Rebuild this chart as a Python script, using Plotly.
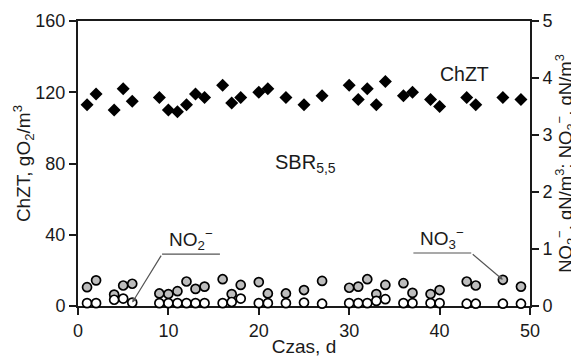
import plotly.graph_objects as go

days = [1, 2, 4, 5, 6, 9, 10, 11, 12, 13, 14, 16, 17, 18, 20, 21, 23, 25, 27,
        30, 31, 32, 33, 34, 36, 37, 39, 40, 43, 44, 47, 49]
chzt = [113, 119, 110, 122, 115, 117, 110, 109, 113, 119, 117, 124, 114, 117, 120,
        122, 117, 113, 118, 124, 116, 122, 113, 126, 118, 120, 116, 112, 117, 113,
        117, 116]
no3 = [0.33, 0.45, 0.20, 0.36, 0.39, 0.22, 0.21, 0.26, 0.43, 0.30, 0.34, 0.47, 0.21,
       0.37, 0.42, 0.22, 0.22, 0.28, 0.44, 0.32, 0.34, 0.47, 0.21, 0.37, 0.40, 0.23,
       0.21, 0.28, 0.43, 0.36, 0.46, 0.34]
no2 = [0.05, 0.05, 0.11, 0.13, 0.06, 0.05, 0.05, 0.05, 0.05, 0.05, 0.05, 0.05, 0.07,
       0.13, 0.05, 0.05, 0.05, 0.06, 0.04, 0.05, 0.05, 0.05, 0.09, 0.12, 0.05, 0.05,
       0.05, 0.05, 0.04, 0.04, 0.04, 0.04]

x_ticks = [0, 10, 20, 30, 40, 50]
y_ticks = [0, 40, 80, 120, 160]
y2_ticks = [0, 1, 2, 3, 4, 5]

FONT = "Liberation Sans, Arial, sans-serif"
INK = "#1a1a1a"
FS = 18

fig = go.Figure()
fig.add_trace(go.Scatter(x=days, y=chzt, mode="markers", name="ChZT",
                         marker=dict(symbol="diamond", size=10, color="black",
                                     line=dict(width=0)), cliponaxis=False))
fig.add_trace(go.Scatter(x=days, y=no3, mode="markers", yaxis="y2", name="NO3",
                         marker=dict(symbol="circle", size=9, color="#bdbdbd",
                                     line=dict(width=1.7, color="black")),
                         cliponaxis=False))
fig.add_trace(go.Scatter(x=days, y=no2, mode="markers", yaxis="y2", name="NO2",
                         marker=dict(symbol="circle", size=9, color="white",
                                     line=dict(width=1.7, color="black")),
                         cliponaxis=False))

i2 = days.index(6)
i3 = days.index(47)

shapes = [
    dict(type="line", xref="x", yref="y2", x0=9.3, x1=15.7, y0=0.91, y1=0.91,
         line=dict(color="#555555", width=1.2)),
    dict(type="line", xref="x", yref="y2", x0=37.1, x1=43.5, y0=0.93, y1=0.93,
         line=dict(color="#555555", width=1.2)),
]

annotations = [
    dict(x=days[i2], y=no2[i2], xref="x", yref="y2", ax=9.3, ay=0.91,
         axref="x", ayref="y2", showarrow=True, arrowhead=2, arrowsize=0.8,
         arrowwidth=1.2, arrowcolor="#555555", text=""),
    dict(x=days[i3], y=no3[i3], xref="x", yref="y2", ax=43.5, ay=0.93,
         axref="x", ayref="y2", showarrow=True, arrowhead=2, arrowsize=0.8,
         arrowwidth=1.2, arrowcolor="#555555", text=""),
    dict(x=12.5, y=1.17, xref="x", yref="y2", showarrow=False,
         text="NO<sub>2</sub><sup>−</sup>", font=dict(size=19, color=INK, family=FONT)),
    dict(x=40.3, y=1.19, xref="x", yref="y2", showarrow=False,
         text="NO<sub>3</sub><sup>−</sup>", font=dict(size=19, color=INK, family=FONT)),
    dict(x=42.8, y=130, xref="x", yref="y", showarrow=False,
         text="ChZT", font=dict(size=19.5, color=INK, family=FONT)),
    dict(x=25.2, y=80, xref="x", yref="y", showarrow=False,
         text="SBR<sub>5,5</sub>", font=dict(size=20, color=INK, family=FONT)),
]

axis_common = dict(showgrid=False, zeroline=False, showline=True, linecolor=INK,
                   linewidth=2, ticks="outside", ticklen=7, tickwidth=1.5,
                   tickcolor=INK, tickfont=dict(size=FS, color=INK, family=FONT),
                   layer="below traces", automargin=False)

fig.update_layout(
    width=571, height=350,
    margin=dict(l=70, r=49, t=13, b=52),
    paper_bgcolor="white", plot_bgcolor="white",
    showlegend=False,
    font=dict(family=FONT, color=INK, size=FS),
    xaxis=dict(range=[0, 50], tickvals=x_ticks, mirror=True,
               title=dict(text="Czas, d", font=dict(size=19), standoff=0),
               **axis_common),
    yaxis=dict(range=[0, 160], tickvals=y_ticks,
               title=dict(text="ChZT, gO<sub>2</sub>/m<sup>3</sup>",
                          font=dict(size=19), standoff=0),
               **axis_common),
    yaxis2=dict(range=[0, 5], tickvals=y2_ticks, overlaying="y", side="right",
                title=dict(text="NO<sub>2</sub><sup>−</sup>, gN/m<sup>3</sup>; "
                                "NO<sub>3</sub><sup>−</sup>, gN/m<sup>3</sup>",
                           font=dict(size=18.5), standoff=5),
                **axis_common),
    shapes=shapes,
    annotations=annotations,
)

fig.write_html("out.html")
